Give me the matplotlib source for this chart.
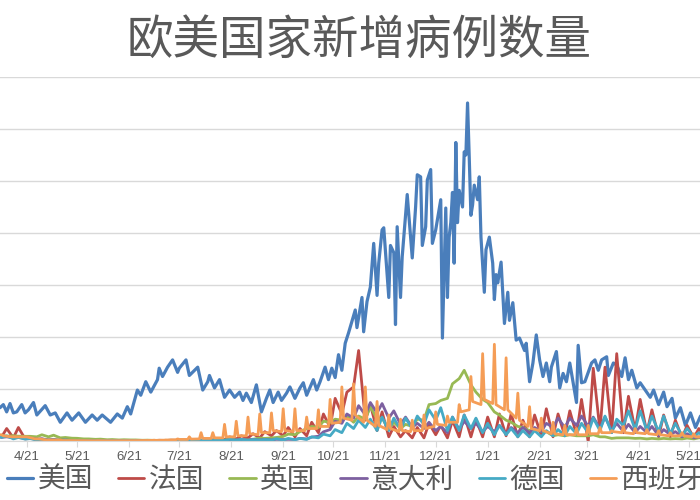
import matplotlib
matplotlib.use('Agg')
import matplotlib.pyplot as plt
import matplotlib.dates as mdates
from datetime import datetime
import numpy as np

plt.rcParams['font.family'] = ['Noto Sans CJK SC', 'DejaVu Sans']

# ---------------- data (daily new cases, thousands) ----------------
start = datetime(2020, 4, 5)   # day 0

series_names = ['美国', '法国', '英国', '意大利', '德国', '西班牙']
colors = ['#4A7EBB', '#BE4B48', '#98B954', '#7D60A0', '#46AAC5', '#F59D56']

tick_dates = [datetime(2020, m, 21) for m in range(4, 13)] + [datetime(2021, m, 21) for m in range(1, 6)]
tick_labels = ['4/21', '5/21', '6/21', '7/21', '8/21', '9/21', '10/21', '11/21',
               '12/21', '1/21', '2/21', '3/21', '4/21', '5/21']

us_days = [-5, -2, 0, 2, 4, 6, 8, 10, 13, 15, 17, 20, 22, 27, 30, 33, 36, 40, 43, 47, 51, 55, 58, 61,
           66, 70, 73, 76, 78, 82, 84, 87, 90, 94, 95, 97, 100, 103, 106, 107, 111, 113, 118, 121,
           124, 125, 128, 131, 134, 137, 140, 143, 145, 147, 150, 153, 156, 159, 161, 163, 166, 168,
           171, 173, 176, 179, 181, 183, 187, 189, 191, 194, 196, 198, 200, 202, 204, 206, 208, 212,
           213, 216, 217, 219, 221, 223, 225, 226, 228, 229, 232, 233, 235, 236, 237, 239, 240, 243,
           246, 248, 249, 251, 252, 254, 255, 257, 258, 260, 263, 264, 266, 267, 268, 269, 270, 271,
           272, 273, 274, 276, 277, 278, 279, 280, 281, 282, 283, 285, 286, 287, 289, 290, 292, 294,
           295, 296, 297, 299, 301, 303, 304, 306, 308, 310, 313, 314, 316, 318, 320, 322, 324, 326,
           328, 329, 332, 334, 336, 338, 340, 342, 344, 345, 347, 349, 351, 353, 355, 357, 359, 362,
           363, 366, 368, 371, 373, 375, 377, 380, 382, 385, 388, 390, 393, 396, 398, 401, 403, 406,
           409, 412, 415, 418]
us_vals = [30, 34, 32, 35, 28, 36, 27, 28, 35, 27, 30, 37, 25, 34, 25, 27, 18, 27, 20, 27, 18, 25, 20, 25,
           18, 26, 22, 33, 26, 49, 44, 57, 47, 59, 70, 62, 71, 78, 66, 70, 78, 63, 71, 49,
           57, 63, 51, 59, 42, 49, 42, 47, 39, 46, 37, 54, 28, 41, 49, 37, 47, 39,
           46, 52, 41, 51, 56, 44, 59, 49, 57, 71, 59, 70, 61, 83, 68, 94, 104, 126,
           109, 138, 105, 134, 148, 190, 140, 171, 203, 205, 138, 188, 181, 112, 206, 138, 177, 237,
           176, 225, 256, 254, 188, 206, 251, 261, 190, 203, 232, 99, 224, 138, 196, 210, 239, 171,
           287, 210, 241, 225, 278, 275, 325, 273, 217, 227, 246, 232, 254, 196, 143, 184, 196, 171,
           136, 160, 152, 172, 113, 143, 116, 133, 97, 99, 87, 94, 57, 75, 102, 78, 62, 75,
           57, 71, 86, 51, 65, 57, 75, 56, 37, 92, 56, 57, 66, 75, 78, 68, 78, 81,
           63, 75, 73, 62, 80, 59, 68, 51, 56, 49, 42, 49, 35, 47, 33, 41, 22, 32,
           15, 27, 13, 24]

# Monday / Thursday values, weeks starting 2020-03-30
fr_vals = [4, 5, 4, 12, 3, 13, 2, 2.5, 1.5, 2, 0.6, 1.2, 0.5, 0.8, 0.3, 0.6, 0.2, 0.5, 0.3, 0.5,
           0.3, 0.5, 0.3, 0.5, 0.3, 0.5, 0.4, 0.6, 0.4, 0.7, 0.5, 0.8, 0.6, 1, 0.7, 1.4, 0.8, 1.6,
           1, 2.5, 1.5, 4, 2, 5, 3, 7, 3, 9, 5, 10, 5, 13, 4, 12, 5, 18, 8, 26, 13, 41, 26, 47,
           52, 87, 20, 35, 10, 28, 4, 14, 4, 10, 3, 13, 3, 17, 6, 15, 3, 20, 4, 25, 4, 21, 4, 23,
           4, 26, 5, 26, 4, 20, 4, 25, 5, 31, 4, 26, 5, 29, 6, 40, -1, 70, 10, 71, 8, 84, 8, 43,
           10, 40, 8, 30, 4, 25, 4, 20, 3, 15, 3, 12, 3, 10]
uk_vals = [4, 4.5, 5, 4.6, 5, 4.6, 4.5, 4.5, 4, 6, 4, 5.6, 3, 3.4, 2.7, 2.6, 2, 2, 1.6, 1.8,
           1.2, 1.4, 1, 1.2, 1, 1, 0.7, 0.8, 0.6, 0.6, 0.6, 0.7, 0.6, 0.8, 0.7, 0.8, 0.9, 0.9,
           1, 1, 1, 1.2, 1.1, 1.2, 1.4, 1.7, 2.9, 2.5, 3, 3.4, 4.4, 6.6, 6, 9, 12, 14, 13, 19,
           18, 21, 20, 24, 18, 24, 21, 33, 21, 22, 11, 18, 12, 16, 14, 21, 20, 35, 36, 39,
           41, 55, 60, 68, 54, 47, 40, 37, 28, 25, 20, 18, 14, 13, 10, 12, 9, 9, 5, 6, 5, 6,
           5, 5, 5, 6, 4, 4, 2.5, 3, 3, 3, 2.5, 2.7, 2, 2.5, 2, 2.5, 2, 2.3, 2, 2.8, 2, 3, 3, 4]
it_vals = [4, 4.5, 3.5, 4, 3, 3.5, 2.3, 2.7, 1.7, 2, 1.2, 1.4, 0.7, 0.9, 0.5, 0.6, 0.3, 0.5,
           0.2, 0.3, 0.2, 0.3, 0.2, 0.3, 0.2, 0.3, 0.2, 0.2, 0.2, 0.2, 0.2, 0.2, 0.2, 0.3,
           0.2, 0.3, 0.2, 0.4, 0.3, 0.5, 0.3, 0.8, 0.9, 1.4, 1, 1.4, 1, 1.6, 1, 1.6, 1.4, 1.6,
           1.5, 2.5, 2, 3.7, 4.6, 8.8, 11, 19, 17, 26, 22, 34, 25, 37, 27, 36, 22, 29, 16, 23,
           13, 17, 12, 18, 10, 14, 8, 23, 11, 19, 12, 17, 9, 14, 9, 15, 7, 13, 8, 13, 8, 13,
           9, 17, 13, 22, 13, 22, 15, 24, 14, 23, 12, 23, 10, 17, 9, 16, 8, 14, 8, 14, 5, 11,
           6, 9, 4, 7, 3, 4, 2, 3]
de_vals = [4, 6, 3.5, 5, 2, 3.4, 1.8, 2.3, 1, 1.5, 0.7, 1, 0.5, 0.8, 0.3, 0.6, 0.3, 0.5,
           0.2, 0.5, 0.3, 0.5, 0.2, 0.6, 0.5, 0.6, 0.3, 0.5, 0.2, 0.4, 0.2, 0.5, 0.3, 0.6,
           0.4, 0.8, 0.5, 1, 0.4, 1.4, 0.6, 1.6, 0.8, 1.5, 0.6, 1.4, 0.8, 1.5, 0.9, 2.2, 1, 2.5,
           1.2, 2.5, 1.5, 4, 3, 6.6, 5, 11, 8, 17, 12, 20, 13, 21, 10, 23, 10, 22, 11, 22,
           12, 24, 16, 30, 20, 32, 10, 23, 10, 25, 12, 22, 8, 17, 6, 15, 6, 12, 4, 10, 4, 10,
           4, 10, 5, 11, 5, 14, 7, 17, 8, 22, 10, 24, 8, 21, 15, 29, 11, 29, 10, 24, 9, 24,
           7, 17, 5, 12, 4, 8, 3, 6]
# Sunday / Monday / Tuesday values (Monday catch-up reports), weeks starting 2020-03-29
es_vals = [8, 8, 7, 6, 6, 5, 4, 4, 4, 4, 4, 4, 2, 2, 2, 1, 1, 1, 1, 1, 0.5, 0.5, 0.5, 0.5,
           0.4, 0.4, 0.4, 0.3, 0.3, 0.4, 0.3, 0.3, 0.3, 0.3, 0.3, 0.4, 0.3, 0.4, 0.4, 0.5, 0.5, 0.5,
           0.6, 0.8, 0.6, 0.8, 1, 0.9, 1.2, 2, 1.5, 1.5, 4, 1.8, 2, 8, 2.5, 2.5, 8, 3,
           3, 16, 4, 4, 19, 5, 5, 23, 7, 6, 26, 8, 8, 27, 10, 9, 31, 10, 9, 31, 10,
           10, 23, 12, 12, 30, 14, 14, 40, 17, 18, 52, 22, 20, 55, 25, 18, 52, 20, 14, 38, 15,
           11, 25, 12, 9, 21, 10, 9, 20, 10, 10, 25, 12, 14, 28, 16, 15, 24, 18, 18, 35, 28,
           30, 62, 38, 35, 84, 40, 36, 93, 35, 30, 80, 30, 22, 46, 20, 14, 33, 12, 10, 22, 10,
           7, 18, 7, 6, 15, 6, 6, 12, 6, 6, 15, 7, 7, 13, 8, 8, 10, 9, 8, 14, 8, 7, 12, 8,
           7, 11, 7, 6, 10, 6, 5, 8, 5, 5, 8, 5, 4, 7, 4, 4, 6, 4]

mt_days = [7 * (i // 2 - 1) + (1 if i % 2 == 0 else 4) for i in range(len(fr_vals))]
es_days = [7 * (i // 3 - 1) + (i % 3) for i in range(len(es_vals))]

series = [
    (us_days, us_vals),
    (mt_days, fr_vals),
    (mt_days[:len(uk_vals)], uk_vals),
    (mt_days[:len(it_vals)], it_vals),
    (mt_days[:len(de_vals)], de_vals),
    (es_days, es_vals),
]


def to_num(days):
    return mdates.date2num(start) + np.asarray(days, dtype=float)


# ---------------- figure ----------------
fig = plt.figure(figsize=(7, 5), dpi=100)
ax = fig.add_axes([-0.024, 0.118, 1.0415, 0.728])

handles = []
for (d, v), name, c in zip(series, series_names, colors):
    n = min(len(d), len(v))
    lw = 2.3 if name == '美国' else 2.0
    h, = ax.plot(to_num(d[:n]), v[:n], color=c, lw=lw, label=name,
                 solid_joinstyle='round', solid_capstyle='round')
    handles.append(h)

ax.set_xlim(to_num(-10), to_num(425))
ax.set_ylim(0, 350)
ax.set_yticks(range(0, 351, 50))
ax.yaxis.grid(True, color='#d9d9d9', lw=1.0)
ax.set_axisbelow(True)
ax.tick_params(axis='y', left=False, labelleft=False)

ax.set_xticks(mdates.date2num(tick_dates))
ax.set_xticklabels(tick_labels, fontsize=9.5, color='#595959', family='Liberation Sans')
ax.tick_params(axis='x', direction='out', length=4, color='#d9d9d9', pad=3)

for s in ['left', 'right', 'top']:
    ax.spines[s].set_visible(False)
ax.spines['bottom'].set_color('#d9d9d9')

fig.text(0.513, 1 - 41 / 500, '欧美国家新增病例数量', ha='center', va='center',
         fontsize=33.5, color='#595959', weight='light')

leg = ax.legend(handles=handles, labels=series_names, loc='center left',
                bbox_to_anchor=(0.01, 0.04), bbox_transform=fig.transFigure,
                ncol=6, frameon=False, handlelength=0.95,
                handletextpad=0.15, columnspacing=0.9, borderpad=0, borderaxespad=0,
                prop={'size': 20, 'weight': 'light'})
for t in leg.get_texts():
    t.set_color('#595959')

fig.savefig('out.png', dpi=100)
